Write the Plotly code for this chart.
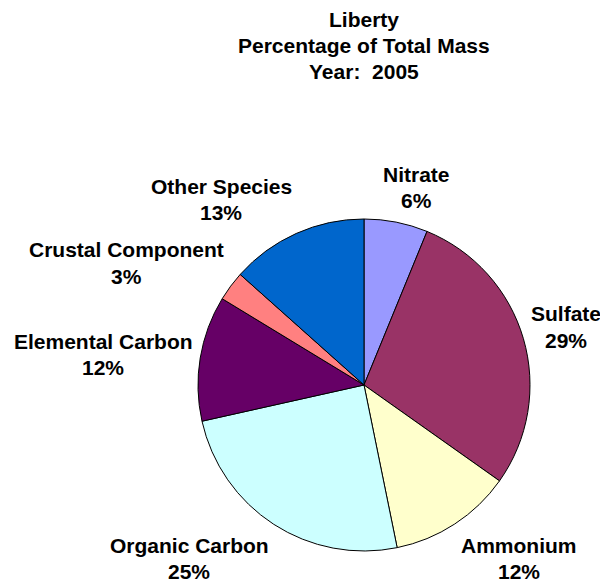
import plotly.graph_objects as go

# Species share of total PM2.5 mass, Liberty site, 2005
species = ["Nitrate", "Sulfate", "Ammonium", "Organic Carbon",
           "Elemental Carbon", "Crustal Component", "Other Species"]
percent = [6.2, 28.6, 12.0, 24.7, 12.2, 2.9, 13.4]
colors = ["#9999FF", "#993366", "#FFFFCC", "#CCFFFF",
          "#660066", "#FF8080", "#0066CC"]

# label anchor positions in pixels (x, y of the first text line)
label_pos = [(417, 174), (566, 314), (519, 545), (189, 545),
             (103, 341), (126, 250), (221, 186)]

W, H = 600, 583
cx, cy, r = 364, 385, 166
line_gap = 26

fig = go.Figure(go.Pie(
    labels=species,
    values=percent,
    sort=False,
    direction="clockwise",
    rotation=0,
    marker=dict(colors=colors, line=dict(color="black", width=1)),
    textinfo="none",
    hoverinfo="label+percent",
    showlegend=False,
    domain=dict(x=[(cx - r) / W, (cx + r) / W],
                y=[1 - (cy + r) / H, 1 - (cy - r) / H]),
))

font = dict(family="Liberation Sans, Arial, sans-serif", size=21, color="black")

annotations = []
for line, y in zip(["Liberty", "Percentage of Total Mass", "Year:  2005"], [19, 45, 71]):
    annotations.append(dict(text=f"<b>{line}</b>", x=364 / W, y=1 - y / H,
                            xref="paper", yref="paper", showarrow=False,
                            xanchor="center", yanchor="middle", font=font))

for name, val, (x, y) in zip(species, percent, label_pos):
    for txt, yy in [(name, y), (f"{round(val)}%", y + line_gap)]:
        annotations.append(dict(text=f"<b>{txt}</b>", x=x / W, y=1 - yy / H,
                                xref="paper", yref="paper", showarrow=False,
                                xanchor="center", yanchor="middle", font=font))

fig.update_layout(
    width=W, height=H,
    margin=dict(l=0, r=0, t=0, b=0),
    paper_bgcolor="white",
    plot_bgcolor="white",
    annotations=annotations,
)

fig.write_html("out.html")
